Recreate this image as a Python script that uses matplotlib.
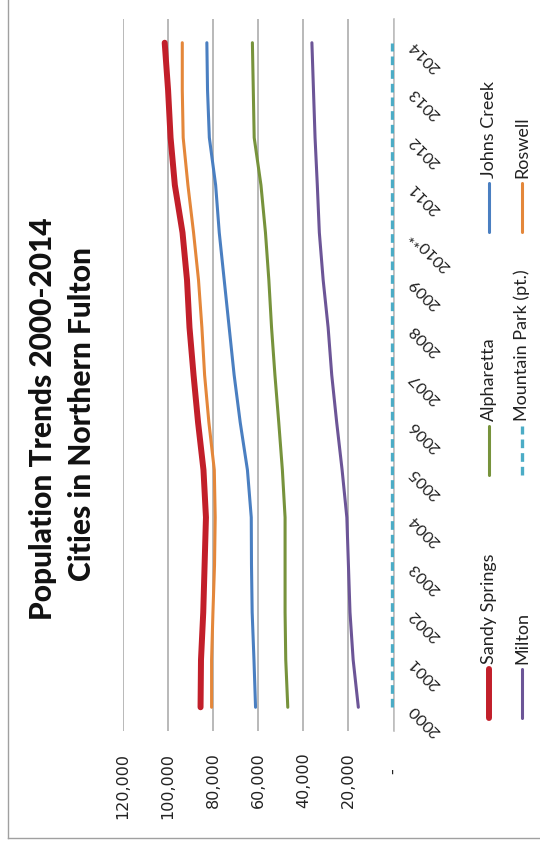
import matplotlib.pyplot as plt
from matplotlib.lines import Line2D

years = ['2000', '2001', '2002', '2003', '2004', '2005', '2006', '2007',
         '2008', '2009', '2010**', '2011', '2012', '2013', '2014']

sandy_springs = [85600, 85400, 84400, 83800, 83200, 84300, 86700, 88700,
                 90500, 91600, 93600, 97000, 98900, 100000, 101500]
roswell = [80700, 80700, 80100, 79400, 79100, 79500, 81900, 83800,
           85000, 86500, 88700, 91200, 93300, 93700, 93700]
johns_creek = [61200, 61900, 62700, 63000, 63100, 64800, 68000, 70700,
               72900, 75100, 77300, 78900, 81700, 82500, 82800]
alpharetta = [46900, 47800, 48100, 48100, 48100, 49300, 50900, 52600,
              54100, 55300, 56800, 58800, 61800, 62200, 62600]
milton = [15600, 17900, 19300, 20000, 20700, 22800, 25200, 27400,
          29000, 31200, 32900, 33800, 34800, 35500, 36200]
mountain_park = [550, 550, 550, 550, 550, 550, 550, 550,
                 550, 550, 550, 550, 550, 550, 550]

value_ticks = [0, 20000, 40000, 60000, 80000, 100000, 120000]
value_labels = ['-   ', '20,000', '40,000', '60,000', '80,000', '100,000', '120,000']

W, H = 540, 847


def fx(px):
    return px / W


def fy(py):
    return 1 - py / H


fig = plt.figure(figsize=(W / 100, H / 100), dpi=100)
ax = fig.add_axes([fx(123), fy(731), fx(393.5) - fx(123), (731 - 19) / H])

pos = list(range(len(years)))
# chart is turned on its side: values run right-to-left, years bottom-to-top
ax.plot(sandy_springs, pos, color='#C21F2A', lw=4.3, solid_capstyle='round', solid_joinstyle='round', zorder=5)
ax.plot(roswell, pos, color='#E4873A', lw=2.2, solid_capstyle='round', solid_joinstyle='round', zorder=4)
ax.plot(johns_creek, pos, color='#4A7FC1', lw=2.2, solid_capstyle='round', solid_joinstyle='round', zorder=4)
ax.plot(alpharetta, pos, color='#77933C', lw=2.2, solid_capstyle='round', solid_joinstyle='round', zorder=4)
ax.plot(milton, pos, color='#6C5597', lw=2.2, solid_capstyle='round', solid_joinstyle='round', zorder=4)
ax.plot(mountain_park, pos, color='#4BACC6', lw=2.4, linestyle=(0, (2.6, 1.5)), dash_capstyle='butt', zorder=4)

ax.set_xlim(120000, 0)
ax.set_ylim(-0.5, len(years) - 0.5)

for s in ['top', 'left', 'bottom']:
    ax.spines[s].set_visible(False)
ax.spines['right'].set_color('#bfbfbf')
ax.spines['right'].set_linewidth(1.2)

ax.set_xticks(value_ticks)
ax.set_xticklabels(value_labels, rotation=90, fontsize=11.5, family='DejaVu Sans', color='#222222')
ax.tick_params(axis='x', length=0, pad=15.5)
ax.grid(axis='x', color='#a6a6a6', lw=1.1)
ax.set_axisbelow(True)

ax.yaxis.tick_right()
ax.set_yticks(pos)
ax.set_yticklabels(years, rotation=135, rotation_mode='anchor', ha='right', va='center',
                   fontsize=11.8, family='Lato', color='#222222')
ax.tick_params(axis='y', length=0, pad=13)

# title, rotated like the rest of the chart
fig.text(fx(43), fy(419), 'Population Trends 2000-2014', rotation=90, ha='center', va='center',
         fontsize=21.5, fontweight=900, family='Lato', color='#111111')
fig.text(fx(82), fy(414), 'Cities in Northern Fulton', rotation=90, ha='center', va='center',
         fontsize=21.5, fontweight=900, family='Lato', color='#111111')

# legend drawn by hand (three entries per column, rotated)
legend = [
    ('Sandy Springs', '#C21F2A', 489, 718, 4.3, '-'),
    ('Alpharetta', '#77933C', 489, 475, 2.2, '-'),
    ('Johns Creek', '#4A7FC1', 489, 232, 2.2, '-'),
    ('Milton', '#6C5597', 522, 718, 2.2, '-'),
    ('Mountain Park (pt.)', '#4BACC6', 522, 475, 2.4, (0, (2.6, 1.5))),
    ('Roswell', '#E4873A', 522, 232, 2.2, '-'),
]
for name, col, x, y0, lw, ls in legend:
    fig.add_artist(Line2D([fx(x), fx(x)], [fy(y0), fy(y0 - 49)], color=col, lw=lw,
                          linestyle=ls, solid_capstyle='round', dash_capstyle='butt'))
    fig.text(fx(x), fy(y0 - 54), name, rotation=90, ha='center', va='bottom',
             fontsize=13, family='Lato', color='#222222')

# chart border (left and bottom edges visible)
fig.add_artist(Line2D([fx(8), fx(8)], [fy(0), fy(838)], color='#a0a0a0', lw=1))
fig.add_artist(Line2D([fx(8), fx(540)], [fy(838), fy(838)], color='#a0a0a0', lw=1))

fig.savefig('out.png', dpi=100)
